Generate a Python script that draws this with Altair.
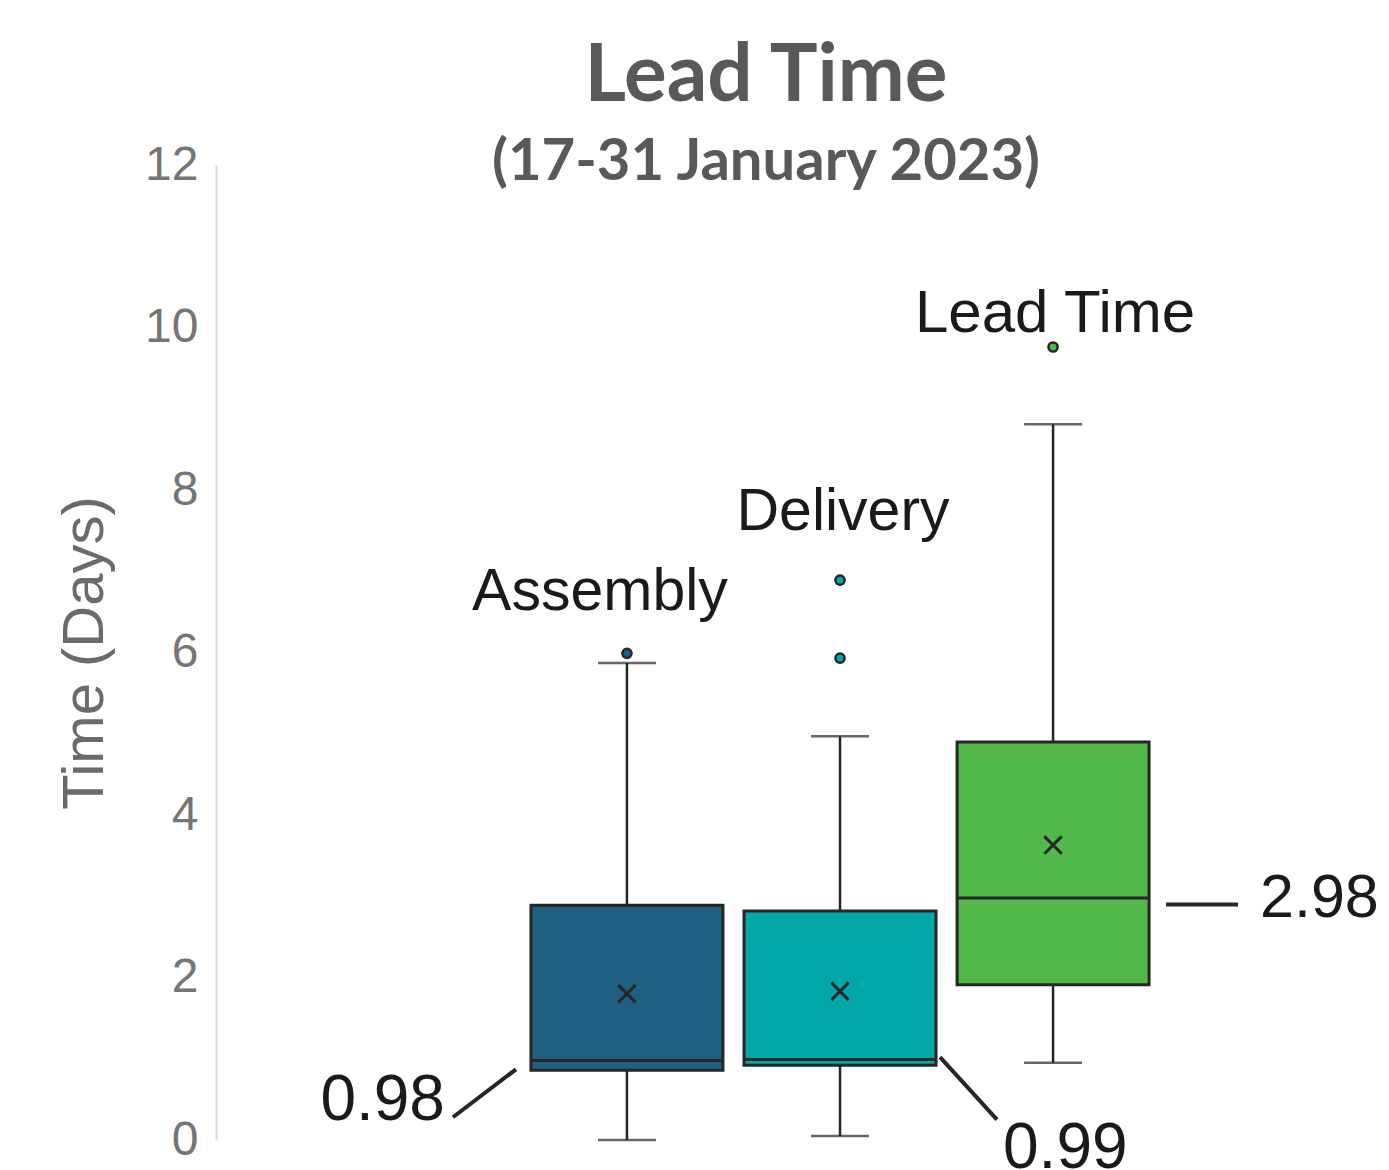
import altair as alt
import pandas as pd

categories = ["Assembly", "Delivery", "Lead Time"]
colors = ["#1F5F82", "#00A8A8", "#52B84A"]
q1 = [0.86, 0.92, 1.91]
median = [0.98, 0.99, 2.98]
q3 = [2.89, 2.82, 4.90]
whisker_low = [0.00, 0.05, 0.95]
whisker_high = [5.87, 4.97, 8.81]
means = [1.80, 1.83, 3.63]

outlier_cat = ["Assembly", "Delivery", "Delivery", "Lead Time"]
outlier_val = [5.99, 5.93, 6.89, 9.76]

label_y = [6.52, 7.51, 9.94]
label_dx = [-27, 3, 2]

median_text = ["0.98", "0.99", "2.98"]
median_text_y = [0.25, -0.34, 2.74]
median_text_dx = [-182, 163, 207]
median_text_align = ["right", "left", "left"]
median_text_size = [64, 64, 61]
leader_y1 = [0.28, 1.02, 2.90]
leader_y2 = [0.87, 0.25, 2.90]
leader_off1 = [-174, 100, 113]
leader_off2 = [-111, 157, 185]

y_ticks = [0, 2, 4, 6, 8, 10, 12]

df = pd.DataFrame({
    "cat": categories, "q1": q1, "median": median, "q3": q3,
    "lo": whisker_low, "hi": whisker_high, "mean": means,
    "ly": label_y,
})
out_df = pd.DataFrame({"cat": outlier_cat, "val": outlier_val})

xscale = alt.Scale(type="band", domain=categories, paddingInner=0,
                   paddingOuter=0.95, align=0.752)
X = alt.X("cat:N", scale=xscale, axis=None)
color = alt.Color("cat:N", scale=alt.Scale(domain=categories, range=colors), legend=None)
Y_AX = alt.Axis(values=y_ticks, format="d", grid=False, ticks=False,
                domainColor="#d9d9d9", domainWidth=2, labelFont="Liberation Sans",
                labelFontSize=48, labelColor="#757575", labelPadding=18,
                title="Time (Days)", titleFont="Liberation Sans", titleFontSize=58,
                titleFontWeight="normal", titleColor="#6b6b6b", titlePadding=30)
yscale = alt.Scale(domain=[0, 12], nice=False, zero=False)

base = alt.Chart(df)
DARK = "#262626"

whisk = base.mark_rule(color=DARK, strokeWidth=2.5).encode(
    x=X, y=alt.Y("lo:Q", scale=yscale, axis=Y_AX), y2="hi:Q")
cap_lo = base.mark_tick(color=DARK, thickness=2.5, size=58, orient="horizontal").encode(
    x=X, y=alt.Y("lo:Q", scale=yscale))
cap_hi = base.mark_tick(color=DARK, thickness=2.5, size=58, orient="horizontal").encode(
    x=X, y=alt.Y("hi:Q", scale=yscale))
box = base.mark_bar(size=192, stroke=DARK, strokeWidth=3, opacity=1).encode(
    x=X, y=alt.Y("q1:Q", scale=yscale), y2="q3:Q", fill=color)
med = base.mark_tick(color=DARK, thickness=3, size=192, orient="horizontal", opacity=1).encode(
    x=X, y=alt.Y("median:Q", scale=yscale))
mean_pt = base.mark_point(shape="M-1,-1L1,1M1,-1L-1,1", filled=False, color=DARK,
                          strokeWidth=3, size=300, opacity=1).encode(
    x=X, y=alt.Y("mean:Q", scale=yscale))
outl = alt.Chart(out_df).mark_circle(size=85, stroke=DARK, strokeWidth=2.5, opacity=1).encode(
    x=X, y=alt.Y("val:Q", scale=yscale), fill=color)

cat_sizes = [59, 59, 60]
cat_labels = []
for c, ly, dx, fs in zip(categories, label_y, label_dx, cat_sizes):
    cat_labels.append(
        alt.Chart(pd.DataFrame({"cat": [c], "ly": [ly]})).mark_text(
            font="Liberation Sans", fontSize=fs, color="#1a1a1a", align="center",
            baseline="alphabetic", dx=dx).encode(x=X, y=alt.Y("ly:Q", scale=yscale), text="cat:N"))

val_labels = []
leaders = []
for c, t, ty, tdx, al, fs, y1, y2, o1, o2 in zip(categories, median_text, median_text_y,
                                                  median_text_dx, median_text_align, median_text_size,
                                                  leader_y1, leader_y2, leader_off1, leader_off2):
    d = pd.DataFrame({"cat": [c], "t": [t], "ty": [ty], "y1": [y1], "y2": [y2]})
    val_labels.append(alt.Chart(d).mark_text(
        font="Liberation Sans", fontSize=fs, color="#1a1a1a", align=al,
        baseline="alphabetic", dx=tdx).encode(x=X, y=alt.Y("ty:Q", scale=yscale), text="t:N"))
    leaders.append(alt.Chart(d).mark_rule(color=DARK, strokeWidth=4, xOffset=o1, x2Offset=o2).encode(
        x=X, x2=alt.X2("cat:N", bandPosition=0.5), y=alt.Y("y1:Q", scale=yscale), y2="y2:Q"))

chart = alt.layer(whisk, cap_lo, cap_hi, box, med, mean_pt, outl,
                  *cat_labels, *val_labels, *leaders).properties(
    width=1044, height=975,
    background="white",
    autosize=alt.AutoSizeParams(type="none"),
    padding={"left": 208, "top": 157, "right": 121, "bottom": 30},
    title=alt.Title("Lead Time", subtitle="(17-31 January 2023)",
                    font="Lato", fontSize=80, fontWeight="bold", color="#595959",
                    subtitleFont="Lato", subtitleFontSize=58, subtitleFontWeight="bold",
                    subtitleColor="#595959", subtitlePadding=16, anchor="middle",
                    frame="group", offset=-52, dx=28),
).configure_view(stroke=None)

chart.save("out.html", embed_options={"renderer": "svg", "actions": False})
